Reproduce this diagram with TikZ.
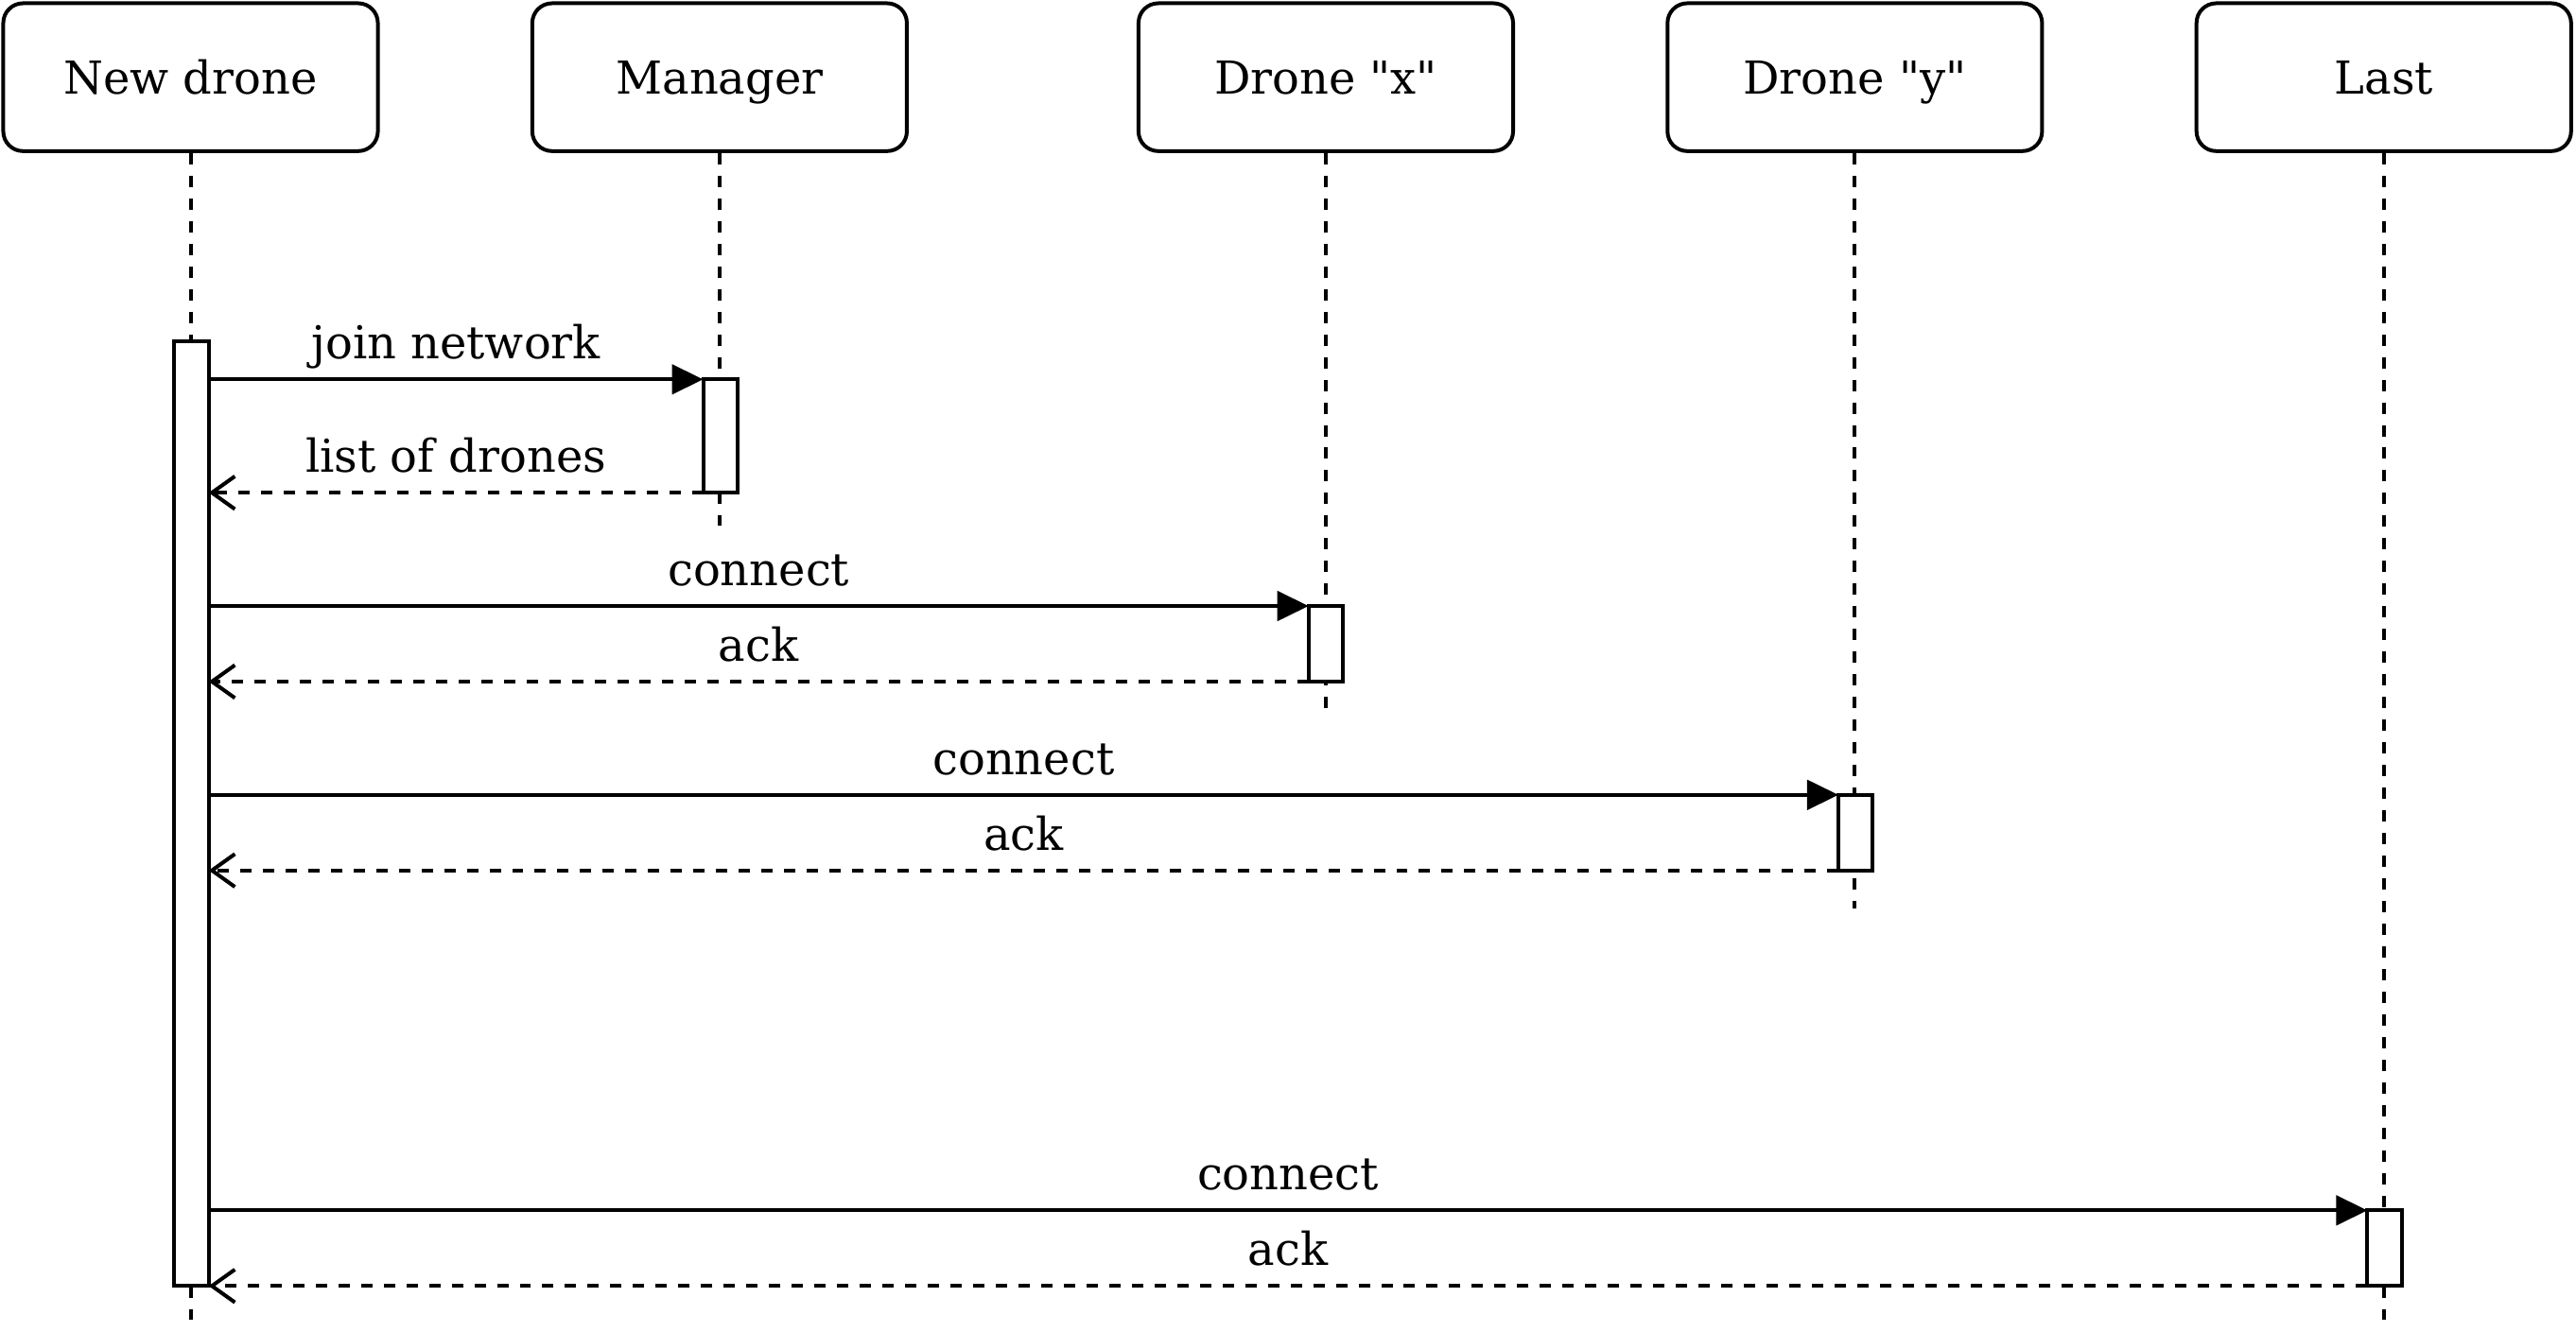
\documentclass[tikz,border=0pt]{standalone}
\usepackage{fontspec}
\setmainfont{DejaVu Serif}[Ligatures=TeXOff]
\usetikzlibrary{arrows.meta}
\begin{document}
\begin{tikzpicture}[x=1pt,y=-1pt,line width=2.3pt,font=\fontsize{27.6}{33}\selectfont,
head/.style={draw,rounded corners=12pt,minimum width=228pt,minimum height=90pt,text height=21pt,text depth=0pt,inner sep=0pt},
life/.style={dash pattern=on 6.9pt off 6.9pt},
bar/.style={draw,fill=white,minimum width=21pt,inner sep=0pt,outer sep=0pt,anchor=north},
call/.style={-{Triangle[length=19pt,width=18pt]}},
reply/.style={dash pattern=on 6.9pt off 6.9pt,-{Straight Barb[length=14pt,width=20pt]}},
lbl/.style={anchor=base,inner sep=0pt,yshift=12.5pt}]
\useasboundingbox (0,0) rectangle (1568,810.5);
% lifelines
\foreach \n/\x/\t/\e in {nd/116/New drone/810,mg/438/Manager/320,dx/807/Drone "x"/432,dy/1129/Drone "y"/553,la/1451/Last/810}{
\node[head] (\n) at (\x,47) {\t};
\draw[life] (\n.south) -- (\x,\e) coordinate (\n end);
}
% activations
\node[bar,minimum height=575pt] (ndbar) at (116.5,208) {};
\node[bar,minimum height=69pt] (mgbar) at (438.5,231) {};
\node[bar,minimum height=46pt] (dxbar) at (807,369) {};
\node[bar,minimum height=46pt] (dybar) at (1129.5,484) {};
\node[bar,minimum height=46pt] (labar) at (1451.5,737) {};
% messages
\draw[call] (ndbar.east |- mgbar.north) -- (mgbar.north west) node[midway,lbl]{join network};
\draw[reply] (mgbar.south west) -- (ndbar.east |- mgbar.south) node[midway,lbl]{list of drones};
\draw[call] (ndbar.east |- dxbar.north) -- (dxbar.north west) node[midway,lbl]{connect};
\draw[reply] (dxbar.south west) -- (ndbar.east |- dxbar.south) node[midway,lbl]{ack};
\draw[call] (ndbar.east |- dybar.north) -- (dybar.north west) node[midway,lbl]{connect};
\draw[reply] (dybar.south west) -- (ndbar.east |- dybar.south) node[midway,lbl]{ack};
\draw[call] (ndbar.east |- labar.north) -- (labar.north west) node[midway,lbl]{connect};
\draw[reply] (labar.south west) -- (ndbar.east |- labar.south) node[midway,lbl]{ack};
\end{tikzpicture}
\end{document}
